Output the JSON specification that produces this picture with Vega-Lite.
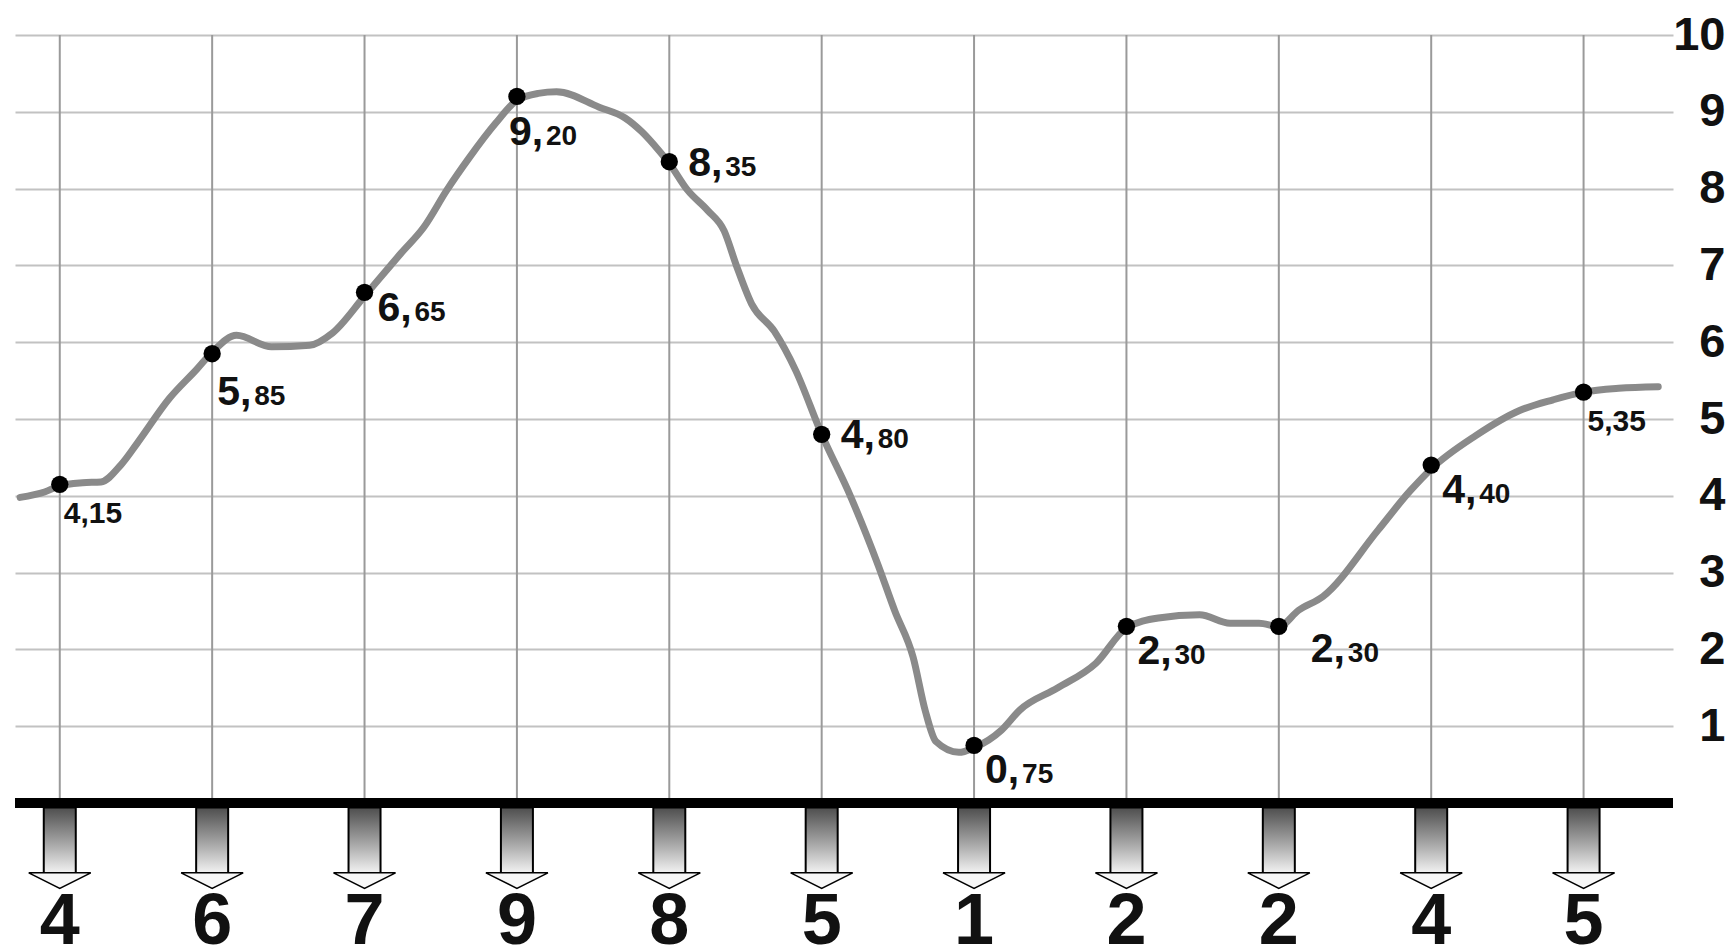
{
  "$schema": "https://vega.github.io/schema/vega-lite/v6.json",
  "width": 1658,
  "height": 948,
  "autosize": "none",
  "padding": {"left": 15, "right": 58, "top": 0, "bottom": 0},
  "background": "white",
  "config": {"view": {"stroke": null}, "font": "Liberation Sans"},
  "datasets": {
    "points": [
      {"i": 0, "v": 4.15, "grade": 4, "int": "4,", "dec": "15", "label": "4,15", "grp": "small"},
      {"i": 1, "v": 5.85, "grade": 6, "int": "5,", "dec": "85", "label": "5,85", "grp": "under"},
      {"i": 2, "v": 6.65, "grade": 7, "int": "6,", "dec": "65", "label": "6,65", "grp": "r2"},
      {"i": 3, "v": 9.20, "grade": 9, "int": "9,", "dec": "20", "label": "9,20", "grp": "below"},
      {"i": 4, "v": 8.35, "grade": 8, "int": "8,", "dec": "35", "label": "8,35", "grp": "right"},
      {"i": 5, "v": 4.80, "grade": 5, "int": "4,", "dec": "80", "label": "4,80", "grp": "right"},
      {"i": 6, "v": 0.75, "grade": 1, "int": "0,", "dec": "75", "label": "0,75", "grp": "br"},
      {"i": 7, "v": 2.30, "grade": 2, "int": "2,", "dec": "30", "label": "2,30", "grp": "br"},
      {"i": 8, "v": 2.30, "grade": 2, "int": "2,", "dec": "30", "label": "2,30", "grp": "far"},
      {"i": 9, "v": 4.40, "grade": 4, "int": "4,", "dec": "40", "label": "4,40", "grp": "br"},
      {"i": 10, "v": 5.35, "grade": 5, "int": "5,", "dec": "35", "label": "5,35", "grp": "small"}
    ],
    "curve": [
      {"i": -0.26, "v": 3.98}, {"i": -0.1, "v": 4.05}, {"i": 0, "v": 4.13}, {"i": 0.15, "v": 4.17},
      {"i": 0.27, "v": 4.18}, {"i": 0.4, "v": 4.4}, {"i": 0.51, "v": 4.69}, {"i": 0.72, "v": 5.27},
      {"i": 0.9, "v": 5.65}, {"i": 1.0, "v": 5.87}, {"i": 1.16, "v": 6.09}, {"i": 1.39, "v": 5.94},
      {"i": 1.64, "v": 5.96}, {"i": 1.79, "v": 6.12}, {"i": 2.0, "v": 6.6}, {"i": 2.24, "v": 7.16},
      {"i": 2.39, "v": 7.5}, {"i": 2.54, "v": 7.98}, {"i": 2.69, "v": 8.41}, {"i": 2.86, "v": 8.85},
      {"i": 3.0, "v": 9.15}, {"i": 3.14, "v": 9.24}, {"i": 3.26, "v": 9.26}, {"i": 3.54, "v": 9.06},
      {"i": 3.71, "v": 8.92}, {"i": 3.82, "v": 8.74}, {"i": 3.93, "v": 8.5}, {"i": 4.0, "v": 8.33},
      {"i": 4.12, "v": 7.98}, {"i": 4.25, "v": 7.72}, {"i": 4.36, "v": 7.45}, {"i": 4.44, "v": 7.0},
      {"i": 4.54, "v": 6.5}, {"i": 4.69, "v": 6.14}, {"i": 4.83, "v": 5.63}, {"i": 5.0, "v": 4.8},
      {"i": 5.19, "v": 3.99}, {"i": 5.37, "v": 3.1}, {"i": 5.48, "v": 2.5}, {"i": 5.6, "v": 1.9},
      {"i": 5.68, "v": 1.2}, {"i": 5.75, "v": 0.8}, {"i": 5.9, "v": 0.66}, {"i": 6.0, "v": 0.72},
      {"i": 6.18, "v": 0.95}, {"i": 6.3, "v": 1.21}, {"i": 6.55, "v": 1.5}, {"i": 6.8, "v": 1.82},
      {"i": 7.0, "v": 2.28}, {"i": 7.21, "v": 2.41}, {"i": 7.48, "v": 2.45}, {"i": 7.68, "v": 2.34},
      {"i": 7.87, "v": 2.34}, {"i": 8.0, "v": 2.3}, {"i": 8.13, "v": 2.51}, {"i": 8.29, "v": 2.69},
      {"i": 8.65, "v": 3.55}, {"i": 8.86, "v": 4.06}, {"i": 9.0, "v": 4.35}, {"i": 9.29, "v": 4.78},
      {"i": 9.58, "v": 5.11}, {"i": 9.8, "v": 5.25}, {"i": 10.0, "v": 5.35}, {"i": 10.23, "v": 5.4},
      {"i": 10.49, "v": 5.42}
    ]
  },
  "encoding": {
    "x": {"field": "i", "type": "quantitative", "scale": {"domain": [-0.261, 10.554], "nice": false, "zero": false}, "axis": null},
    "y": {"field": "v", "type": "quantitative", "scale": {"domain": [-1.888, 10.456], "nice": false, "zero": false},
      "axis": {"orient": "right", "values": [1, 2, 3, 4, 5, 6, 7, 8, 9, 10], "title": null, "domain": false, "ticks": false,
        "grid": true, "gridColor": "#c2c2c2", "gridWidth": 2,
        "labelFont": "Liberation Sans", "labelFontSize": 47, "labelFontWeight": "bold", "labelColor": "#111111",
        "labelAlign": "right", "labelBaseline": "middle", "labelPadding": 52}}
  },
  "layer": [
    {
      "data": {"name": "points"},
      "mark": {"type": "rule", "color": "#9a9a9a", "strokeWidth": 2},
      "encoding": {
        "y": {"datum": 0},
        "y2": {"datum": 10}
      }
    },
    {
      "data": {"name": "curve"},
      "mark": {"type": "line", "interpolate": "monotone", "color": "#8a8a8a", "strokeWidth": 7, "strokeCap": "round", "strokeJoin": "round"}
    },
    {
      "data": {"name": "points"},
      "mark": {"type": "rule", "color": "#000000", "strokeWidth": 9},
      "encoding": {"x": null, "y": {"datum": 0}}
    },
    {
      "data": {"name": "points"},
      "mark": {"type": "bar", "width": 32, "stroke": "#000000", "strokeWidth": 2,
        "fill": {"gradient": "linear", "x1": 0, "y1": 0, "x2": 0, "y2": 1,
          "stops": [{"offset": 0, "color": "#4e4e4e"}, {"offset": 0.55, "color": "#a8a8a8"}, {"offset": 1, "color": "#f6f6f6"}]}},
      "encoding": {
        "y": {"datum": -0.06},
        "y2": {"datum": -0.93}
      }
    },
    {
      "data": {"name": "points"},
      "mark": {"type": "point", "shape": "M -1 -0.25 L 1 -0.25 L 0 0.25 Z", "filled": true, "fill": "#f7f7f7", "stroke": "#000000", "strokeWidth": 1.5, "opacity": 1, "size": 3844},
      "encoding": {
        "y": {"datum": -1.01}
      }
    },
    {
      "data": {"name": "points"},
      "mark": {"type": "point", "shape": "circle", "filled": true, "color": "#000000", "opacity": 1, "size": 300}
    },
    {
      "data": {"name": "points"},
      "transform": [{"filter": "datum.grp === 'small'"}],
      "mark": {"type": "text", "align": "left", "baseline": "alphabetic", "dx": 4, "dy": 39, "fontSize": 30, "fontWeight": "bold", "color": "#111111"},
      "encoding": {"text": {"field": "label"}}
    },
    {
      "data": {"name": "points"},
      "transform": [{"filter": "datum.grp === 'under'"}],
      "mark": {"type": "text", "align": "left", "baseline": "alphabetic", "dx": 5, "dy": 51, "fontSize": 41, "fontWeight": "bold", "color": "#111111"},
      "encoding": {"text": {"field": "int"}}
    },
    {
      "data": {"name": "points"},
      "transform": [{"filter": "datum.grp === 'under'"}],
      "mark": {"type": "text", "align": "left", "baseline": "alphabetic", "dx": 42, "dy": 51, "fontSize": 28, "fontWeight": "bold", "color": "#111111"},
      "encoding": {"text": {"field": "dec"}}
    },
    {
      "data": {"name": "points"},
      "transform": [{"filter": "datum.grp === 'r2'"}],
      "mark": {"type": "text", "align": "left", "baseline": "alphabetic", "dx": 13, "dy": 29, "fontSize": 41, "fontWeight": "bold", "color": "#111111"},
      "encoding": {"text": {"field": "int"}}
    },
    {
      "data": {"name": "points"},
      "transform": [{"filter": "datum.grp === 'r2'"}],
      "mark": {"type": "text", "align": "left", "baseline": "alphabetic", "dx": 50, "dy": 29, "fontSize": 28, "fontWeight": "bold", "color": "#111111"},
      "encoding": {"text": {"field": "dec"}}
    },
    {
      "data": {"name": "points"},
      "transform": [{"filter": "datum.grp === 'below'"}],
      "mark": {"type": "text", "align": "left", "baseline": "alphabetic", "dx": -8, "dy": 49, "fontSize": 41, "fontWeight": "bold", "color": "#111111"},
      "encoding": {"text": {"field": "int"}}
    },
    {
      "data": {"name": "points"},
      "transform": [{"filter": "datum.grp === 'below'"}],
      "mark": {"type": "text", "align": "left", "baseline": "alphabetic", "dx": 29, "dy": 49, "fontSize": 28, "fontWeight": "bold", "color": "#111111"},
      "encoding": {"text": {"field": "dec"}}
    },
    {
      "data": {"name": "points"},
      "transform": [{"filter": "datum.grp === 'right'"}],
      "mark": {"type": "text", "align": "left", "baseline": "alphabetic", "dx": 19, "dy": 14, "fontSize": 41, "fontWeight": "bold", "color": "#111111"},
      "encoding": {"text": {"field": "int"}}
    },
    {
      "data": {"name": "points"},
      "transform": [{"filter": "datum.grp === 'right'"}],
      "mark": {"type": "text", "align": "left", "baseline": "alphabetic", "dx": 56, "dy": 14, "fontSize": 28, "fontWeight": "bold", "color": "#111111"},
      "encoding": {"text": {"field": "dec"}}
    },
    {
      "data": {"name": "points"},
      "transform": [{"filter": "datum.grp === 'br'"}],
      "mark": {"type": "text", "align": "left", "baseline": "alphabetic", "dx": 11, "dy": 38, "fontSize": 41, "fontWeight": "bold", "color": "#111111"},
      "encoding": {"text": {"field": "int"}}
    },
    {
      "data": {"name": "points"},
      "transform": [{"filter": "datum.grp === 'br'"}],
      "mark": {"type": "text", "align": "left", "baseline": "alphabetic", "dx": 48, "dy": 38, "fontSize": 28, "fontWeight": "bold", "color": "#111111"},
      "encoding": {"text": {"field": "dec"}}
    },
    {
      "data": {"name": "points"},
      "transform": [{"filter": "datum.grp === 'far'"}],
      "mark": {"type": "text", "align": "left", "baseline": "alphabetic", "dx": 32, "dy": 36, "fontSize": 41, "fontWeight": "bold", "color": "#111111"},
      "encoding": {"text": {"field": "int"}}
    },
    {
      "data": {"name": "points"},
      "transform": [{"filter": "datum.grp === 'far'"}],
      "mark": {"type": "text", "align": "left", "baseline": "alphabetic", "dx": 69, "dy": 36, "fontSize": 28, "fontWeight": "bold", "color": "#111111"},
      "encoding": {"text": {"field": "dec"}}
    },
    {
      "data": {"name": "points"},
      "mark": {"type": "text", "align": "center", "baseline": "alphabetic", "fontSize": 72, "fontWeight": "bold", "color": "#111111"},
      "encoding": {
        "y": {"datum": -1.83},
        "text": {"field": "grade"}
      }
    }
  ]
}
